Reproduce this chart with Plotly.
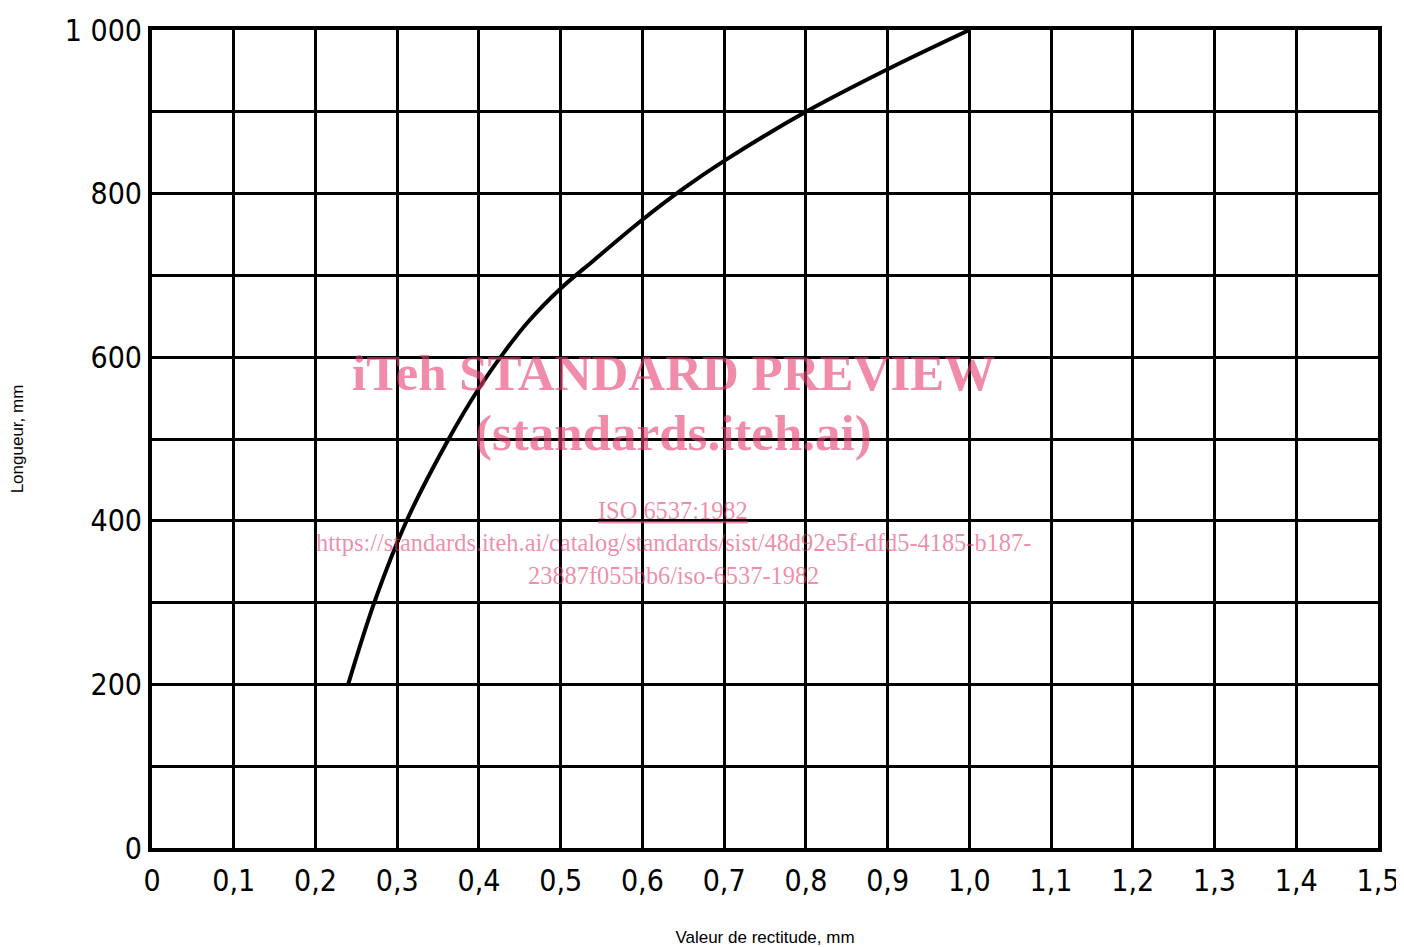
import plotly.graph_objects as go

# Curve data
rectitude = [0.24, 0.273, 0.312, 0.363, 0.40, 0.43, 0.46, 0.50, 0.54, 0.60, 0.65, 0.70, 0.80, 0.90, 1.00]
longueur = [200, 303, 401, 500, 562, 605, 643, 684, 718, 768, 806, 840, 900, 952, 1000]

x_ticks = [0, 0.1, 0.2, 0.3, 0.4, 0.5, 0.6, 0.7, 0.8, 0.9, 1.0, 1.1, 1.2, 1.3, 1.4, 1.5]
x_labels = ["0", "0,1", "0,2", "0,3", "0,4", "0,5", "0,6", "0,7", "0,8", "0,9",
            "1,0", "1,1", "1,2", "1,3", "1,4", "1,5"]
y_ticks = [0, 100, 200, 300, 400, 500, 600, 700, 800, 900, 1000]
y_labels = ["0", "", "200", "", "400", "", "600", "", "800", "", "1 000"]

x_title = "Valeur de rectitude, mm"
y_title = "Longueur, mm"

wm_color = "rgba(230,63,113,0.6)"

fig = go.Figure()
fig.add_trace(go.Scatter(
    x=rectitude, y=longueur, mode="lines",
    line=dict(color="black", width=4, shape="spline", smoothing=1.0),
    showlegend=False, hoverinfo="skip",
))

tick_font = dict(family="DejaVu Sans Condensed", size=30, color="black")

fig.update_xaxes(
    range=[0, 1.5], tickvals=x_ticks, ticktext=x_labels,
    showgrid=True, gridcolor="black", gridwidth=2.5,
    showline=True, linecolor="black", linewidth=4, mirror=True,
    zeroline=False, ticks="", tickfont=tick_font, ticklabelstandoff=3,
    title=dict(text=x_title, font=dict(family="Liberation Sans", size=17, color="black"),
               standoff=42),
)
fig.update_yaxes(
    range=[0, 1000], tickvals=y_ticks, ticktext=y_labels,
    showgrid=True, gridcolor="black", gridwidth=2.5,
    showline=True, linecolor="black", linewidth=4, mirror=True,
    zeroline=False, ticks="", tickfont=tick_font, ticklabelstandoff=0,
    title=dict(text=y_title, font=dict(family="Liberation Sans", size=17, color="black"),
               standoff=52),
)

annotations = [
    dict(text="<b>iTeh STANDARD PREVIEW</b>", y=373, font_size=51),
    dict(text="<b>(standards.iteh.ai)</b>", y=433, font_size=51),
    dict(text="<u>ISO 6537:1982</u>", y=511, font_size=24.4),
    dict(text="https://standards.iteh.ai/catalog/standards/sist/48d92e5f-dfd5-4185-b187-",
         y=543, font_size=24.4),
    dict(text="23887f055bb6/iso-6537-1982", y=575, font_size=24.4),
]
for a in annotations:
    fig.add_annotation(
        text=a["text"], xref="paper", yref="paper",
        x=(673 - 152) / (1378 - 152), y=(848 - a["y"]) / (848 - 30),
        showarrow=False, xanchor="center", yanchor="middle",
        font=dict(family="Liberation Serif", size=a["font_size"], color=wm_color),
    )

# page body adds an 8px offset; size the figure so the plot lands where the reference has it
fig.update_layout(
    width=1396, height=939,
    margin=dict(l=144, r=26, t=22, b=99, autoexpand=False),
    paper_bgcolor="white", plot_bgcolor="white",
)

fig.write_html("out.html")
